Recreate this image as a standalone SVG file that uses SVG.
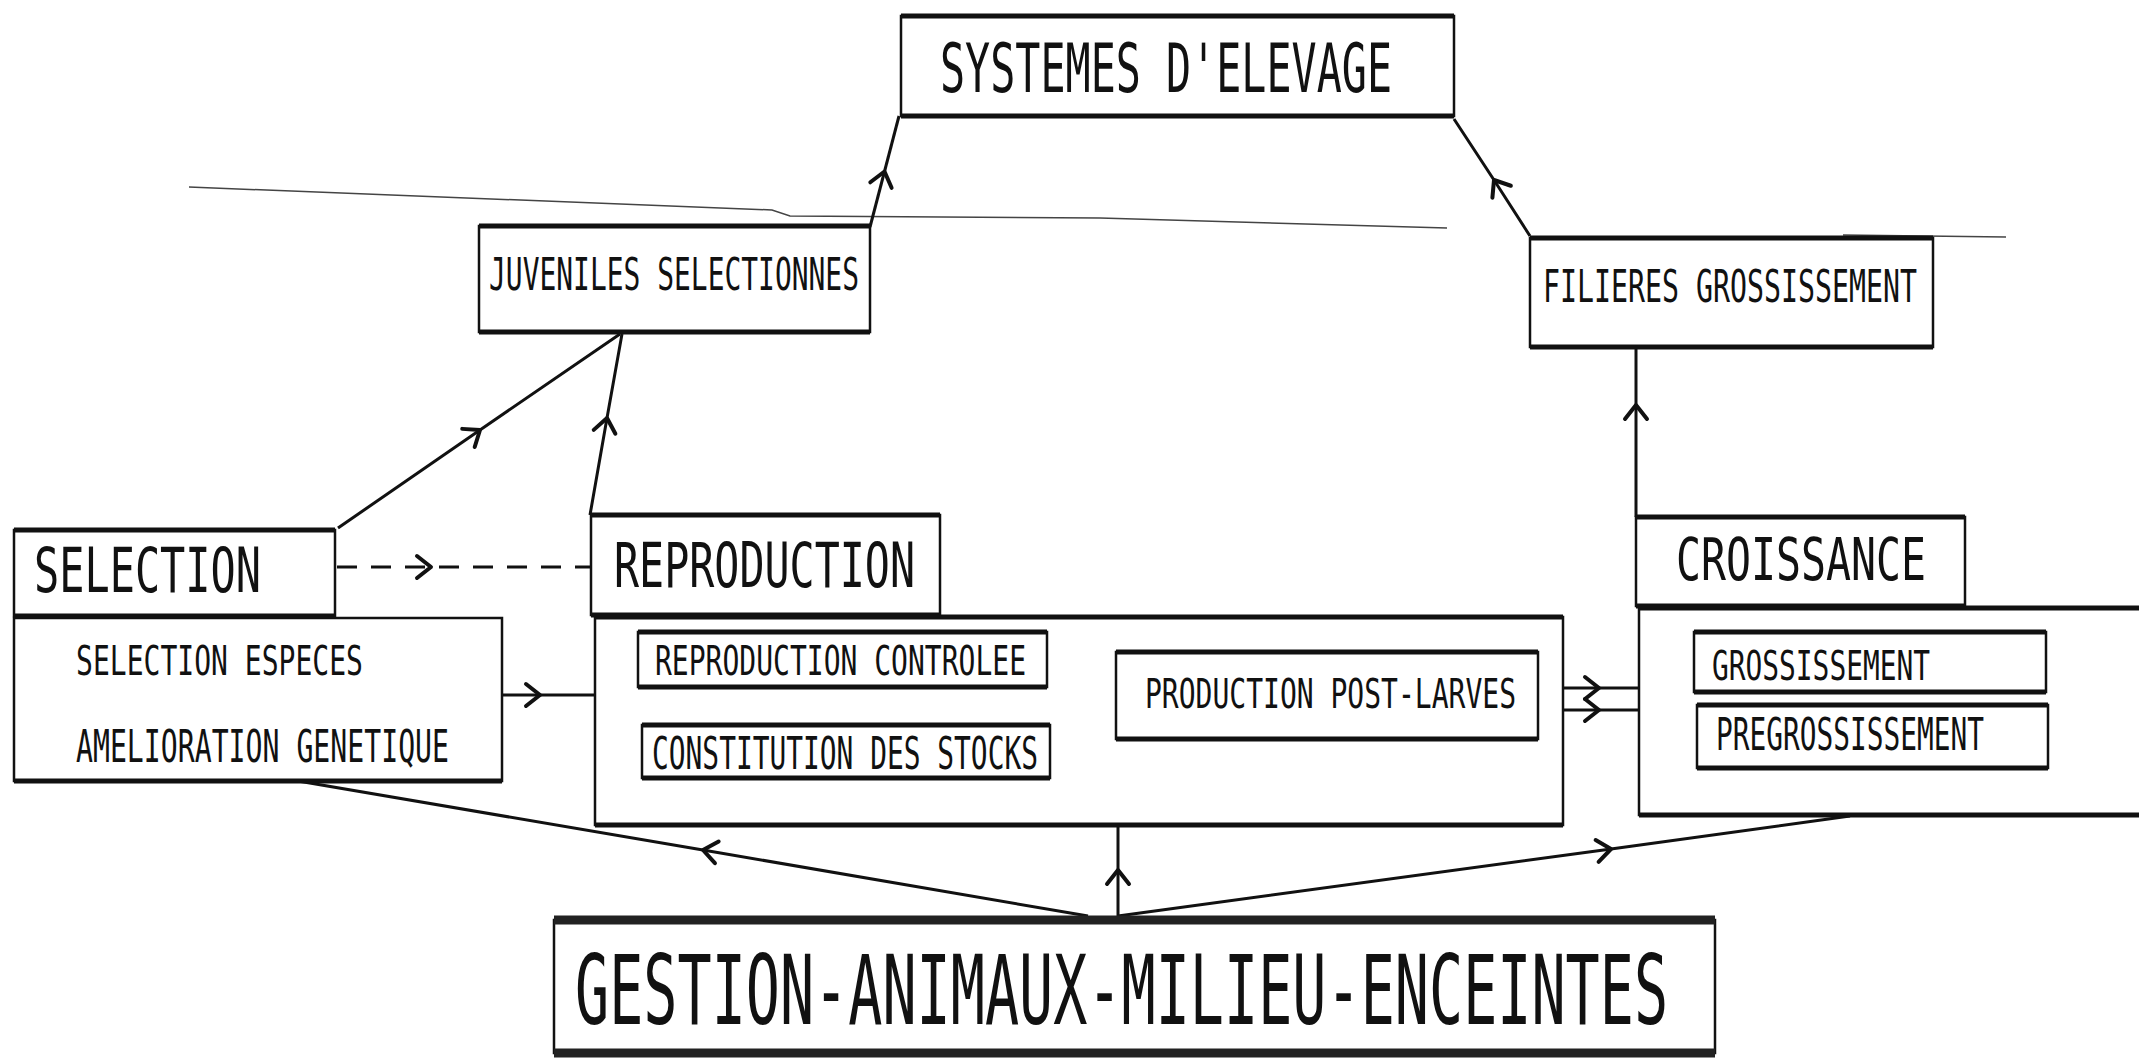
<svg xmlns="http://www.w3.org/2000/svg" width="2139" height="1061" viewBox="0 0 2139 1061">
<style>
.box{fill:#fff;stroke:#111;stroke-width:2.5}
.hb{stroke:#111;stroke-width:5;fill:none}
.hb2{stroke:#222;stroke-width:9;fill:none}
.t{font-family:"DejaVu Sans Mono","Liberation Mono",monospace;fill:#111}
.c{fill:none;stroke:#111;stroke-width:3;marker-mid:url(#ch)}
.d{fill:none;stroke:#111;stroke-width:3;stroke-dasharray:20 14;marker-mid:url(#ch)}
.thin{fill:none;stroke:#444;stroke-width:1.5}
</style>
<defs>
<marker id="ch" markerUnits="userSpaceOnUse" markerWidth="40" markerHeight="40" viewBox="-20 -20 40 40" orient="auto" overflow="visible">
<path d="M-14,-11 L0,0 L-14,11" fill="none" stroke="#111" stroke-width="4" stroke-linecap="round" stroke-linejoin="round"/>
</marker>
</defs>
<rect width="2139" height="1061" fill="#fff"/>
<g id="scanlines">
<path class="thin" d="M189,187 L772,210 L790,216 L1100,218 L1447,228"/>
<path class="thin" d="M1843,235 L2006,237"/>
</g>
<g id="connectors">
<path class="c" d="M870,227 L884.5,171.5 L899,116"/>
<path class="c" d="M1530,236 L1494,180 L1454,119"/>
<path class="c" d="M338,528 L480,430 L620,334"/>
<path class="c" d="M590,515 L607,418 L622,334"/>
<path class="d" d="M337,567 L431,567 L591,567"/>
<path class="c" d="M502,695 L540,695 L595,695"/>
<path class="c" d="M659,725 L659,702 L659,687"/>
<path class="c" d="M1048,657 L1072,664 L1112,684"/>
<path class="c" d="M1112,686 L1082,711 L1052,747"/>
<path class="c" d="M1563,688 L1599,688 L1639,688"/>
<path class="c" d="M1563,710 L1599,710 L1639,710"/>
<path class="c" d="M1636,517 L1636,405 L1636,347"/>
<path class="c" d="M1088,916 L703,850 L298,781"/>
<path class="c" d="M1118,916 L1118,870 L1118,826"/>
<path class="c" d="M1118,916 L1611,849 L1850,816"/>
</g>
<g id="systemes">
<rect class="box" x="901" y="16" width="553" height="100"/>
<path class="hb" d="M901,16 H1454 M901,116 H1454"/>
<text class="t" x="940" y="92" font-size="67" textLength="452" lengthAdjust="spacingAndGlyphs">SYSTEMES D'ELEVAGE</text>
</g>
<g id="juveniles">
<rect class="box" x="479" y="226" width="391" height="106"/>
<path class="hb" d="M479,226 H870 M479,332 H870"/>
<text class="t" x="489" y="290" font-size="44" textLength="370" lengthAdjust="spacingAndGlyphs">JUVENILES SELECTIONNES</text>
</g>
<g id="filieres">
<rect class="box" x="1530" y="238" width="403" height="109"/>
<path class="hb" d="M1530,238 H1933 M1530,347 H1933"/>
<text class="t" x="1543" y="302" font-size="44" textLength="374" lengthAdjust="spacingAndGlyphs">FILIERES GROSSISSEMENT</text>
</g>
<g id="selection">
<rect class="box" x="14" y="618" width="488" height="163"/>
<path class="hb" d="M14,781 H502"/>
<rect class="box" x="14" y="530" width="321" height="86"/>
<path class="hb" d="M14,530 H335 M14,616 H335"/>
<text class="t" x="34" y="592" font-size="62" textLength="227" lengthAdjust="spacingAndGlyphs">SELECTION</text>
<text class="t" x="76" y="675" font-size="41" textLength="287" lengthAdjust="spacingAndGlyphs">SELECTION ESPECES</text>
<text class="t" x="76" y="762" font-size="44" textLength="373" lengthAdjust="spacingAndGlyphs">AMELIORATION GENETIQUE</text>
</g>
<g id="reproduction">
<rect class="box" x="595" y="617" width="968" height="208"/>
<path class="hb" d="M595,617 H1563 M595,825 H1563"/>
<rect class="box" x="591" y="515" width="349" height="100"/>
<path class="hb" d="M591,515 H940 M591,615 H940"/>
<text class="t" x="614" y="587" font-size="62" textLength="301" lengthAdjust="spacingAndGlyphs">REPRODUCTION</text>
</g>
<g id="controlee">
<rect class="box" x="638" y="632" width="409" height="55"/>
<path class="hb" d="M638,632 H1047 M638,687 H1047"/>
<text class="t" x="655" y="675" font-size="41" textLength="371" lengthAdjust="spacingAndGlyphs">REPRODUCTION CONTROLEE</text>
</g>
<g id="constitution">
<rect class="box" x="642" y="725" width="408" height="53"/>
<path class="hb" d="M642,725 H1050 M642,778 H1050"/>
<text class="t" x="652" y="769" font-size="44" textLength="386" lengthAdjust="spacingAndGlyphs">CONSTITUTION DES STOCKS</text>
</g>
<g id="postlarves">
<rect class="box" x="1116" y="652" width="422" height="87"/>
<path class="hb" d="M1116,652 H1538 M1116,739 H1538"/>
<text class="t" x="1145" y="708" font-size="41" textLength="371" lengthAdjust="spacingAndGlyphs">PRODUCTION POST-LARVES</text>
</g>
<g id="croissance">
<rect class="box" x="1639" y="608" width="520" height="207"/>
<path class="hb" d="M1639,608 H2139 M1639,815 H2139"/>
<rect class="box" x="1636" y="517" width="329" height="89"/>
<path class="hb" d="M1636,517 H1965 M1636,606 H1965"/>
<text class="t" x="1676" y="580" font-size="59" textLength="250" lengthAdjust="spacingAndGlyphs">CROISSANCE</text>
</g>
<g id="grossissement">
<rect class="box" x="1694" y="632" width="352" height="60"/>
<path class="hb" d="M1694,632 H2046 M1694,692 H2046"/>
<text class="t" x="1712" y="680" font-size="41" textLength="218" lengthAdjust="spacingAndGlyphs">GROSSISSEMENT</text>
</g>
<g id="pregrossissement">
<rect class="box" x="1697" y="705" width="351" height="63"/>
<path class="hb" d="M1697,705 H2048 M1697,768 H2048"/>
<text class="t" x="1716" y="750" font-size="44" textLength="268" lengthAdjust="spacingAndGlyphs">PREGROSSISSEMENT</text>
</g>
<g id="gestion">
<rect class="box" x="554" y="920" width="1161" height="133" stroke-width="3"/>
<path class="hb2" d="M554,920 H1715 M554,1053 H1715"/>
<text class="t" transform="translate(575,1024) scale(0.585,1)" x="0" y="0" font-size="97">GESTION-ANIMAUX-MILIEU-ENCEINTES</text>
</g>
</svg>
